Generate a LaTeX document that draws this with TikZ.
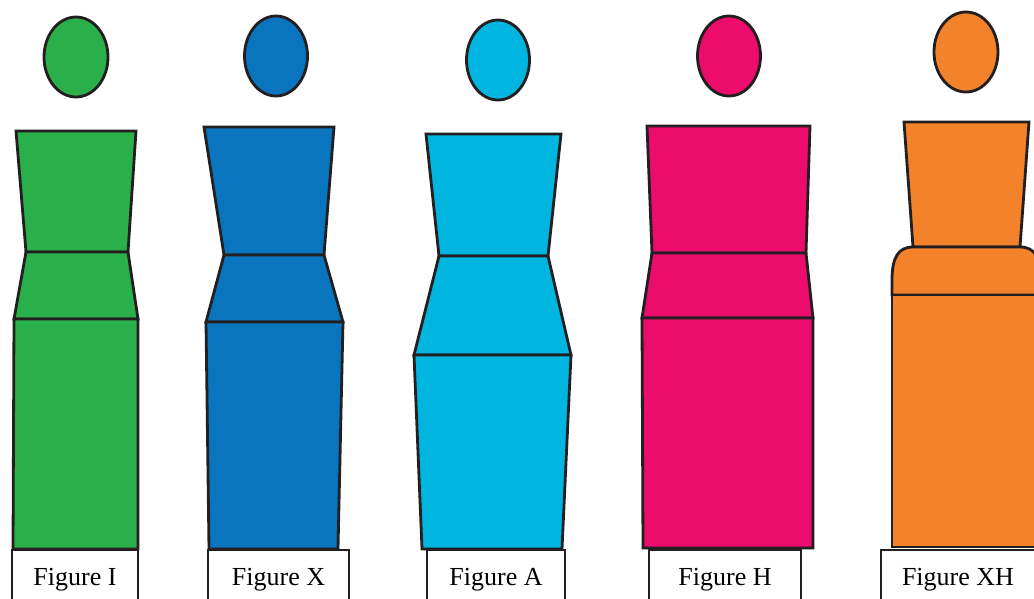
\documentclass[tikz,border=0pt]{standalone}
\usepackage{fontspec}
\setmainfont{Liberation Serif}
\definecolor{figgreen}{RGB}{42,176,74}
\definecolor{figblue}{RGB}{8,117,190}
\definecolor{figcyan}{RGB}{0,181,224}
\definecolor{figpink}{RGB}{236,12,108}
\definecolor{figorange}{RGB}{243,130,42}
\definecolor{outline}{RGB}{35,31,32}
\tikzset{
  part/.style={draw=outline, line width=2.8pt, line join=miter},
  labelbox/.style={draw=outline, line width=1.6pt, fill=white},
  labeltext/.style={anchor=base, inner sep=0pt, font=\fontsize{26}{30}\selectfont}
}
\begin{document}
\begin{tikzpicture}[x=1pt,y=-1pt]
  \useasboundingbox (0,0) rectangle (1034,598);
  \clip (0,0) rectangle (1034,598);
  \fill[white] (0,0) rectangle (1034,598);

  % Figure I
  \draw[part, fill=figgreen] (76,57) ellipse [x radius=32, y radius=40];
  \draw[part, fill=figgreen] (16,131) -- (136,131) -- (128,252) -- (26,252) -- cycle;
  \draw[part, fill=figgreen] (26,252) -- (128,252) -- (138,319) -- (14,319) -- cycle;
  \draw[part, fill=figgreen] (14,319) -- (138,319) -- (138,549) -- (13,549) -- cycle;
  \draw[labelbox] (12,550) rectangle (138,612);
  \node[labeltext] (lI) at (75,585) {Figure I};

  % Figure X
  \draw[part, fill=figblue] (276,56) ellipse [x radius=31.5, y radius=40];
  \draw[part, fill=figblue] (204,127) -- (334,127) -- (324,255) -- (224,255) -- cycle;
  \draw[part, fill=figblue] (224,255) -- (324,255) -- (343,322) -- (206,322) -- cycle;
  \draw[part, fill=figblue] (206,322) -- (343,322) -- (338,549) -- (209,549) -- cycle;
  \draw[labelbox] (208,550) rectangle (349,612);
  \node[labeltext] (lX) at (278.5,585) {Figure X};

  % Figure A
  \draw[part, fill=figcyan] (498,60) ellipse [x radius=31.5, y radius=40];
  \draw[part, fill=figcyan] (426,134) -- (561,134) -- (548,256) -- (439,256) -- cycle;
  \draw[part, fill=figcyan] (439,256) -- (548,256) -- (571,355) -- (414,355) -- cycle;
  \draw[part, fill=figcyan] (414,355) -- (571,355) -- (562,549) -- (422,549) -- cycle;
  \draw[labelbox] (427,550) rectangle (565,612);
  \node[labeltext] (lA) at (496,585) {Figure A};

  % Figure H
  \draw[part, fill=figpink] (729,56) ellipse [x radius=31.5, y radius=40];
  \draw[part, fill=figpink] (647,126) -- (810,126) -- (806,253) -- (652,253) -- cycle;
  \draw[part, fill=figpink] (652,253) -- (806,253) -- (813,318) -- (642,318) -- cycle;
  \draw[part, fill=figpink] (642,318) -- (813,318) -- (813,548) -- (643,548) -- cycle;
  \draw[labelbox] (649,550) rectangle (801,612);
  \node[labeltext] (lH) at (725,585) {Figure H};

  % Figure XH (rounded shoulders, running past the right edge)
  \draw[part, fill=figorange] (966,52) ellipse [x radius=32, y radius=40];
  \draw[part, fill=figorange] (904,122) -- (1029,122) -- (1020,247) -- (913,247) -- cycle;
  \draw[part, fill=figorange] (913,247) -- (1020,247)
    .. controls (1035,247) and (1041,258) .. (1041,280) -- (1041,295) -- (892,295) -- (892,280)
    .. controls (892,258) and (898,247) .. cycle;
  \draw[part, fill=figorange] (892,295) -- (1041,295) -- (1041,547) -- (892,547) -- cycle;
  \draw[labelbox] (881,550) rectangle (1045,612);
  \node[labeltext] (lXH) at (958,585) {Figure XH};
\end{tikzpicture}
\end{document}
